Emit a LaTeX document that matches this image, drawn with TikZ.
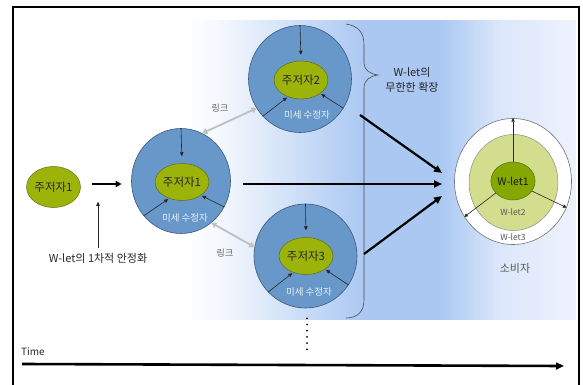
\documentclass[tikz,border=0pt]{standalone}
\usepackage{fontspec}
\setmainfont{Noto Sans CJK KR}
\usetikzlibrary{shapes.geometric,arrows.meta,calc}
\definecolor{blueC}{RGB}{104,152,202}
\definecolor{outl}{RGB}{60,88,125}
\definecolor{greenC}{RGB}{156,180,10}
\definecolor{greenD}{RGB}{95,110,20}
\definecolor{lgreen}{RGB}{210,222,142}
\definecolor{dgreen}{RGB}{132,168,0}
\definecolor{bgblue}{RGB}{170,200,242}
\definecolor{bglight}{RGB}{218,230,250}
\definecolor{bgend}{RGB}{238,243,253}
\pgfdeclarehorizontalshading{bgshade}{100bp}{color(0bp)=(white); color(25bp)=(white); color(30bp)=(white!85!bgblue); color(48bp)=(bgblue); color(57.7bp)=(bgblue); color(65bp)=(bglight); color(75bp)=(bgend); color(100bp)=(bgend)}
\begin{document}
\begin{tikzpicture}[x=1pt,y=-1pt,
  outer/.style={ellipse, draw=outl, fill=blueC, line width=0.6pt, inner sep=0pt},
  innerg/.style={ellipse, draw=greenD, fill=greenC, line width=0.5pt, inner sep=0pt, font=\fontsize{11.5}{11.5}\selectfont, text=black!85},
  tharrow/.style={-{Triangle[length=4pt,width=3.5pt]}, line width=0.6pt, draw=black!85},
  bigarrow/.style={-{Triangle[length=8pt,width=7pt]}, line width=2.2pt},
  linkarrow/.style={{Triangle[length=5pt,width=6pt]}-{Triangle[length=5pt,width=6pt]}, line width=1.8pt, draw=black!25},
  sublbl/.style={font=\fontsize{9.5}{9.5}\selectfont, text=white!85!blueC},
  lbl/.style={font=\fontsize{11}{15}\selectfont, text=black!85, align=center, inner sep=0pt},
  smalllbl/.style={font=\fontsize{9}{9}\selectfont, text=black!60, inner sep=0pt},
]
\useasboundingbox (0,0) rectangle (583,385);

% background gradient
\shade[shading=bgshade] (185,21) rectangle (576,319);

% frame
\draw[line width=1.2pt] (13,386) -- (13,7) -- (579,7) -- (579,386);

% brace
\draw[black!70, line width=0.6pt] (346,24) .. controls (358,26) and (364,32) .. (364,45)
  -- (364,63) .. controls (364,70) and (370,74) .. (378,75)
  .. controls (370,76) and (364,80) .. (364,88)
  -- (364,300) .. controls (364,312) and (357,318) .. (346,318);
\node[lbl] (brlab) at (412,80) {W-let의\\무한한 확장};

% first author
\node[innerg, minimum width=42, minimum height=41] (s1) at (53.5,187) {주저자1};
\draw[bigarrow, -{Triangle[length=6pt,width=6pt]}, line width=2pt] ($(s1.east)+(11,-3)$) -- ++(30,0);
\node[lbl] (stab) at (98,258) {W-let의 1차적 안정화};
\draw[tharrow] ($(stab.north)+(0,-5)$) -- ++(0,-46);

% circle 1
\node[outer, minimum width=99, minimum height=105] (o1) at (181,181) {};
\node[innerg, minimum width=43, minimum height=37] (i1) at (182,182) {주저자1};
\node[sublbl] (m1) at (185,218) {미세 수정자};
\draw[tharrow, shorten >=7pt] (o1.north) -- (i1.north);
\draw[tharrow, shorten >=1pt] (o1.223) -- (i1.232);
\draw[tharrow, shorten >=1pt] (o1.329) -- (i1.325);

% circle 2
\node[outer, minimum width=103, minimum height=107] (o2) at (300,79) {};
\node[innerg, minimum width=44, minimum height=38] (i2) at (301,80) {주저자2};
\node[sublbl] (m2) at (307,115) {미세 수정자};
\draw[tharrow, shorten >=6pt] (o2.north) -- (i2.north);
\draw[tharrow, shorten >=1pt] (o2.225) -- (i2.232);
\draw[tharrow, shorten >=1pt] (o2.326) -- (i2.325);

% circle 3
\node[outer, minimum width=103, minimum height=104] (o3) at (305.5,256) {};
\node[innerg, minimum width=43, minimum height=37] (i3) at (306,256) {주저자3};
\node[sublbl] (m3) at (309,292) {미세 수정자};
\draw[tharrow, shorten >=7pt] (o3.north) -- (i3.north);
\draw[tharrow, shorten >=1pt] (o3.224) -- (i3.232);
\draw[tharrow, shorten >=1pt] (o3.326) -- (i3.325);

% dots
\draw[line width=2pt, line cap=round, dash pattern=on 0pt off 6.2pt] ($(o3.south)+(1.5,10)$) -- ++(0,32);

% links
\draw[linkarrow] (o1.66) -- (o2.214);
\node[smalllbl] (lk1) at (220,108) {링크};
\draw[linkarrow] (o1.306) -- (o3.170);
\node[smalllbl] (lk2) at (225,253) {링크};

% consumer
\node[ellipse, draw=black!55, fill=white, line width=0.6pt, minimum width=117, minimum height=126] (w3) at (513,181.5) {};
\node[ellipse, draw=black!45, fill=lgreen, line width=0.5pt, minimum width=89, minimum height=96] (w2) at (513.5,182.5) {};
\node[ellipse, draw=greenD, fill=dgreen, line width=0.5pt, minimum width=41, minimum height=38, inner sep=0pt, font=\fontsize{10.5}{10.5}\selectfont, text=black!90] (w1) at (513,181) {W-let1};
\node[font=\fontsize{8.5}{8.5}\selectfont, text=black!65] (w2l) at (513,212) {W-let2};
\node[font=\fontsize{8.5}{8.5}\selectfont, text=black!65] (w3l) at (513,237) {W-let3};
\node[lbl, text=black!65] (cons) at (515,268) {소비자};
\draw[tharrow, -{Triangle[length=3.5pt,width=3.5pt]}] (w1.north) -- (w3.north);
\draw[tharrow, -{Triangle[length=3.5pt,width=3.5pt]}] (w1.215) -- (w3.216);
\draw[tharrow, -{Triangle[length=3.5pt,width=3.5pt]}] (w1.332) -- (w3.334);

% big arrows
\draw[bigarrow] ($(o2.center)+(60,36)$) -- ($(w3.center)+(-71,-8.5)$);
\draw[bigarrow] ($(o1.center)+(62,3)$) -- ($(w3.center)+(-71,2.5)$);
\draw[bigarrow] ($(o3.center)+(58.5,-2)$) -- ($(w3.center)+(-71,14.5)$);

% time
\node[font=\fontsize{10}{10}\selectfont, text=black!85] (time) at (33,352) {Time};
\coordinate (t0) at (22,364);
\coordinate (t1) at (564,366);
\draw[bigarrow, line width=2.6pt] (t0) -- (t1);
\end{tikzpicture}
\end{document}
